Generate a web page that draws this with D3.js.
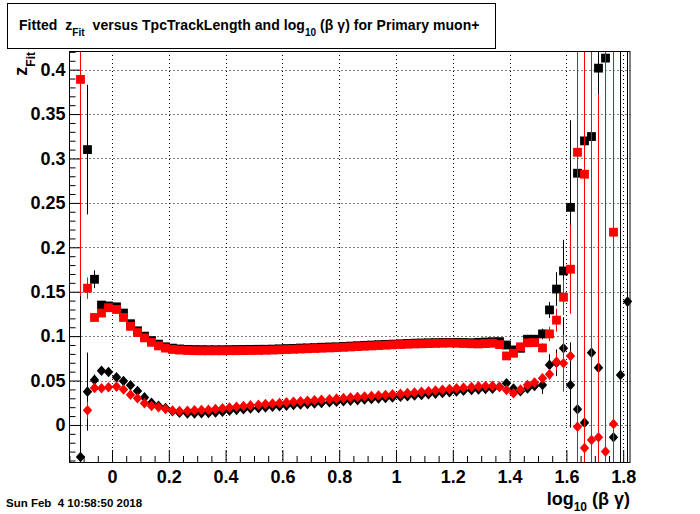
<!DOCTYPE html>
<html><head><meta charset="utf-8">
<script src="https://cdn.jsdelivr.net/npm/d3@7"></script>
<style>
body{margin:0;background:#fff}
svg{display:block}
text{font-family:"Liberation Sans",Arial,Helvetica,sans-serif;font-weight:bold;fill:#000}
</style>
</head><body><svg id="c" width="700" height="514"></svg>
<script>
// ---- data ----
const binCenters = [
 -0.1125,-0.0875,-0.0625,-0.0375,-0.0125,0.0125,0.0375,0.0625,0.0875,0.1125,
 0.1375,0.1625,0.1875,0.2125,0.2375,0.2625,0.2875,0.3125,0.3375,0.3625,
 0.3875,0.4125,0.4375,0.4625,0.4875,0.5125,0.5375,0.5625,0.5875,0.6125,
 0.6375,0.6625,0.6875,0.7125,0.7375,0.7625,0.7875,0.8125,0.8375,0.8625,
 0.8875,0.9125,0.9375,0.9625,0.9875,1.0125,1.0375,1.0625,1.0875,1.1125,
 1.1375,1.1625,1.1875,1.2125,1.2375,1.2625,1.2875,1.3125,1.3375,1.3625,
 1.3875,1.4125,1.4375,1.4625,1.4875,1.5125,1.5375,1.5625,1.5875,1.6125,
 1.6375,1.6625,1.6875,1.7125,1.7375,1.7625,1.7875,1.8125];

const blackSquares = [
 null,0.31,0.164,0.135,0.134,0.133,0.126,0.114,0.106,0.100,
 0.095,0.091,0.088,0.0865,0.0856,0.0851,0.0849,0.0848,0.0847,0.0847,
 0.0847,0.0848,0.0849,0.085,0.0851,0.0852,0.0852,0.0854,0.0857,0.086,
 0.0862,0.0866,0.0868,0.0871,0.0875,0.0878,0.088,0.0884,0.0888,0.0892,
 0.0896,0.09,0.0904,0.0907,0.091,0.0914,0.0918,0.0921,0.0923,0.0925,
 0.0927,0.0928,0.0929,0.093,0.0928,0.0926,0.093,0.0934,0.0937,0.0938,
 0.090,0.0845,0.0863,0.0965,0.0965,0.1025,0.1295,0.153,0.1734,0.245,
 0.2834,0.3198,0.3247,0.4017,0.413,null,null,null];
const blackSquaresErr = [
 null,0.073,0.01,0.004,0.003,0.003,0.003,0.002,0.002,0.002,
 0.0015,0.0015,0.0015,0.0015,0.0015,0.0015,0.0015,0.0015,0.0015,0.0015,
 0.0015,0.0015,0.0015,0.0015,0.0015,0.0015,0.0015,0.0015,0.0015,0.0015,
 0.0015,0.0015,0.0015,0.0015,0.0015,0.0015,0.0015,0.0015,0.0015,0.0015,
 0.0015,0.0015,0.0015,0.0015,0.0015,0.0015,0.0015,0.0015,0.0015,0.0015,
 0.0015,0.0015,0.0015,0.0015,0.0015,0.0015,0.0015,0.0015,0.0015,0.0015,
 0.004,0.004,0.004,0.005,0.005,0.006,0.009,0.019,0.035,0.098,
 0.02,0.02,0.02,0.03,0.02,null,null,null];

const redSquares = [
 0.389,0.154,0.121,0.126,0.132,0.130,0.121,0.111,0.104,0.098,
 0.093,0.089,0.0865,0.085,0.0843,0.0838,0.0836,0.0835,0.0835,0.0835,
 0.0835,0.0836,0.0836,0.0837,0.0838,0.0839,0.0841,0.0843,0.0846,0.0849,
 0.0852,0.0855,0.0858,0.0861,0.0864,0.0867,0.087,0.0874,0.0878,0.0882,
 0.0886,0.089,0.0894,0.0898,0.0902,0.0906,0.0909,0.0912,0.0914,0.0916,
 0.0918,0.092,0.0922,0.092,0.0917,0.0914,0.0912,0.0916,0.092,0.0905,
 0.0777,0.0807,0.088,0.0925,0.0927,0.0867,0.1025,0.118,0.1438,0.1753,
 0.307,0.2823,null,null,null,0.217,null,null];
const redSquaresErr = [
 0.244,0.012,0.004,0.003,0.003,0.003,0.003,0.002,0.002,0.002,
 0.0015,0.0015,0.0015,0.0015,0.0015,0.0015,0.0015,0.0015,0.0015,0.0015,
 0.0015,0.0015,0.0015,0.0015,0.0015,0.0015,0.0015,0.0015,0.0015,0.0015,
 0.0015,0.0015,0.0015,0.0015,0.0015,0.0015,0.0015,0.0015,0.0015,0.0015,
 0.0015,0.0015,0.0015,0.0015,0.0015,0.0015,0.0015,0.0015,0.0015,0.0015,
 0.0015,0.0015,0.0015,0.0015,0.0015,0.0015,0.0015,0.0015,0.0015,0.0015,
 0.004,0.004,0.004,0.004,0.004,0.005,0.008,0.013,0.02,0.05,
 1,1,null,null,null,1,null,null];

const blackDiamonds = [
 -0.036,0.0375,0.0507,0.061,0.0597,0.0537,0.0495,0.0447,0.0383,0.031,
 0.025,0.0217,0.019,0.0155,0.0138,0.013,0.013,0.0132,0.0135,0.014,
 0.015,0.016,0.017,0.0178,0.0185,0.0192,0.0198,0.0205,0.0212,0.0218,
 0.0224,0.023,0.0236,0.0242,0.0248,0.0255,0.0262,0.0268,0.0274,0.028,
 0.0286,0.0292,0.0298,0.0304,0.031,0.0317,0.0324,0.0331,0.0338,0.0345,
 0.0353,0.0361,0.0369,0.0377,0.0385,0.0393,0.04,0.0405,0.0408,0.043,
 0.047,0.041,0.038,0.041,0.044,0.045,0.0676,0.07,0.0863,0.045,
 0.0177,0.0026,0.0814,0.0645,null,-0.0139,0.0563,0.1389];
const blackDiamondsErr = [
 0.25,0.044,0.006,0.004,0.003,0.003,0.003,0.002,0.002,0.002,
 0.0015,0.0015,0.0015,0.0015,0.0015,0.0015,0.0015,0.0015,0.0015,0.0015,
 0.0015,0.0015,0.0015,0.0015,0.0015,0.0015,0.0015,0.0015,0.0015,0.0015,
 0.0015,0.0015,0.0015,0.0015,0.0015,0.0015,0.0015,0.0015,0.0015,0.0015,
 0.0015,0.0015,0.0015,0.0015,0.0015,0.0015,0.0015,0.0015,0.0015,0.0015,
 0.0015,0.0015,0.0015,0.0015,0.0015,0.0015,0.0015,0.0015,0.0015,0.0015,
 0.004,0.004,0.004,0.004,0.005,0.01,0.012,0.015,0.035,0.048,
 0.05,0.05,0.05,0.05,null,0.05,1,1];

const redDiamonds = [
 null,0.0165,0.0417,0.0413,0.0424,0.0432,0.040,0.034,0.030,0.0244,
 0.0214,0.020,0.018,0.0162,0.0157,0.016,0.0165,0.0168,0.0172,0.018,
 0.0188,0.0196,0.0205,0.0213,0.022,0.0228,0.0235,0.0242,0.0248,0.0254,
 0.026,0.0266,0.0272,0.0278,0.0284,0.029,0.0296,0.0302,0.0308,0.0314,
 0.032,0.0326,0.0332,0.0338,0.0345,0.0352,0.0359,0.0366,0.0373,0.038,
 0.0388,0.0396,0.0404,0.0412,0.042,0.0428,0.0434,0.0438,0.044,0.0428,
 0.0394,0.0357,0.040,0.045,0.0477,0.0525,0.057,0.0713,0.0695,0.0777,
 -0.002,-0.026,-0.017,-0.0139,-0.030,0.001,null,null];
const redDiamondsErr = [
 null,0.0095,0.004,0.003,0.003,0.003,0.003,0.002,0.002,0.002,
 0.0015,0.0015,0.0015,0.0015,0.0015,0.0015,0.0015,0.0015,0.0015,0.0015,
 0.0015,0.0015,0.0015,0.0015,0.0015,0.0015,0.0015,0.0015,0.0015,0.0015,
 0.0015,0.0015,0.0015,0.0015,0.0015,0.0015,0.0015,0.0015,0.0015,0.0015,
 0.0015,0.0015,0.0015,0.0015,0.0015,0.0015,0.0015,0.0015,0.0015,0.0015,
 0.0015,0.0015,0.0015,0.0015,0.0015,0.0015,0.0015,0.0015,0.0015,0.0015,
 0.003,0.003,0.003,0.004,0.004,0.005,0.006,0.01,0.032,0.005,
 1,1,1,0.386,1,1,null,null];

const xTickValues = [0,0.2,0.4,0.6,0.8,1,1.2,1.4,1.6,1.8];
const yTickValues = [0,0.05,0.1,0.15,0.2,0.25,0.3,0.35,0.4];
const dateText = "Sun Feb  4 10:58:50 2018";

// ---- drawing ----
const svg = d3.select("#c");
const fx0 = 69.5, fx1 = 630, fy0 = 51, fy1 = 462;
const x = d3.scaleLinear().domain([-0.15, 1.825]).range([69.4, 630.3]);
const y = d3.scaleLinear().domain([-0.0417, 0.421]).range([462, 51]);

svg.append("rect").attr("width",700).attr("height",514).attr("fill","#fff");

svg.append("defs").append("clipPath").attr("id","fr")
  .append("rect").attr("x",fx0).attr("y",fy0).attr("width",fx1-fx0).attr("height",fy1-fy0);

// grid
const grid = svg.append("g").attr("stroke","#000").attr("stroke-width",1).attr("stroke-dasharray","1,3");
grid.selectAll(".gx").data(xTickValues).join("line")
  .attr("x1",d=>Math.round(x(d))+0.5).attr("x2",d=>Math.round(x(d))+0.5)
  .attr("y1",fy0).attr("y2",fy1);
grid.selectAll(".gy").data(yTickValues).join("line")
  .attr("y1",d=>Math.round(y(d))+0.5).attr("y2",d=>Math.round(y(d))+0.5)
  .attr("x1",fx0).attr("x2",fx1);

// axes
const xMinor = d3.range(-0.15, 1.826, 0.05).filter(v => xTickValues.every(t => Math.abs(t - v) > 1e-6));
const yMinor = d3.range(-0.04, 0.4201, 0.01).filter(v => yTickValues.every(t => Math.abs(t - v) > 1e-6));

const xAxis = svg.append("g").attr("transform",`translate(0,${fy1})`)
  .call(d3.axisBottom(x).tickValues(xTickValues).tickSize(-12).tickPadding(8)
    .tickFormat(d => d3.format("")(+d.toFixed(1))));
const xAxisMinor = svg.append("g").attr("transform",`translate(0,${fy1})`)
  .call(d3.axisBottom(x).tickValues(xMinor).tickSize(-6).tickFormat(""));
const yAxis = svg.append("g").attr("transform",`translate(${fx0},0)`)
  .call(d3.axisLeft(y).tickValues(yTickValues).tickSize(-11).tickPadding(4)
    .tickFormat(d => d3.format("")(+d.toFixed(2))));
const yAxisMinor = svg.append("g").attr("transform",`translate(${fx0},0)`)
  .call(d3.axisLeft(y).tickValues(yMinor).tickSize(-6).tickFormat(""));
[xAxis,xAxisMinor,yAxis,yAxisMinor].forEach(g=>{
  g.select(".domain").remove();
  g.selectAll("line").attr("stroke","#000");
  g.selectAll("text").attr("font-size",18).attr("font-family",'"Liberation Sans",Arial,sans-serif').attr("font-weight","bold");
});

// series
function series(vals, errs, color, shape) {
  const pts = binCenters.map((c,i)=>({c, v:vals[i], e:errs[i]})).filter(p=>p.v!==null);
  const g = svg.append("g");
  g.append("g").attr("clip-path","url(#fr)").selectAll("line").data(pts.filter(p=>p.e))
    .join("line")
    .attr("x1",p=>Math.round(x(p.c))+0.5).attr("x2",p=>Math.round(x(p.c))+0.5)
    .attr("y1",p=>y(p.v+p.e)).attr("y2",p=>y(p.v-p.e))
    .attr("stroke",color).attr("stroke-width",1);
  const m = g.append("g");
  if (shape==="square") {
    m.selectAll("rect").data(pts).join("rect")
      .attr("x",p=>Math.round(x(p.c))+0.5-4.4).attr("y",p=>y(p.v)-4.4)
      .attr("width",8.8).attr("height",8.8).attr("fill",color);
  } else {
    m.selectAll("path").data(pts).join("path")
      .attr("d",p=>{const cx=Math.round(x(p.c))+0.5, cy=y(p.v);
        return `M${cx},${cy-5.3}L${cx+4.7},${cy}L${cx},${cy+5.3}L${cx-4.7},${cy}Z`;})
      .attr("fill",color);
  }
}
series(blackSquares, blackSquaresErr, "#000", "square");
series(blackDiamonds, blackDiamondsErr, "#000", "diamond");
series(redSquares, redSquaresErr, "#ff0000", "square");
series(redDiamonds, redDiamondsErr, "#ff0000", "diamond");

// frame
svg.append("rect").attr("x",fx0).attr("y",fy0+0.5).attr("width",fx1-fx0).attr("height",fy1-fy0)
  .attr("fill","none").attr("stroke","#000").attr("stroke-width",1);

// title box
svg.append("rect").attr("x",7.5).attr("y",3.5).attr("width",488).attr("height",45)
  .attr("fill","#fff").attr("stroke","#000");
const t = svg.append("text").attr("x",19).attr("y",30).attr("font-size",14)
  .attr("letter-spacing",0.05).attr("xml:space","preserve");
t.append("tspan").text("Fitted  z");
t.append("tspan").attr("font-size",10).attr("dy",6).text("Fit");
t.append("tspan").attr("dy",-6).text("  versus TpcTrackLength and log");
t.append("tspan").attr("font-size",10).attr("dy",6).text("10");
t.append("tspan").attr("dy",-6).text(" (β γ) for Primary muon+");

// y title
const yt = svg.append("text").attr("transform","translate(27,52) rotate(-90)")
  .attr("text-anchor","end").attr("font-size",18);
yt.append("tspan").text("z");
yt.append("tspan").attr("font-size",12).attr("dy",8).text("Fit");

// x title
const xt = svg.append("text").attr("x",630).attr("y",505).attr("text-anchor","end").attr("font-size",18);
xt.append("tspan").text("log");
xt.append("tspan").attr("font-size",12).attr("dy",6).text("10");
xt.append("tspan").attr("dy",-6).text(" (β γ)");

// date
svg.append("text").attr("x",6).attr("y",507).attr("font-size",11.5)
  .attr("xml:space","preserve").style("white-space","pre").text(dateText);
</script>
</body></html>
